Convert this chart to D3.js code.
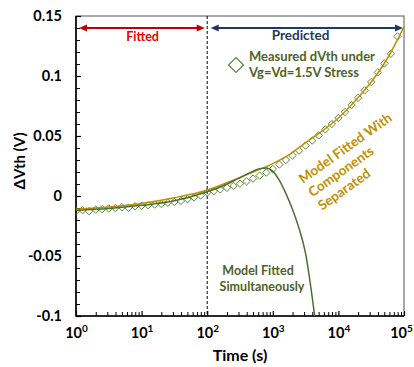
<!DOCTYPE html>
<html>
<head>
<meta charset="utf-8">
<script src="https://cdn.jsdelivr.net/npm/d3@7"></script>
<style>
  html, body { margin: 0; padding: 0; background: #fff; }
  svg { display: block; }
  text { font-family: Lato, "Open Sans", sans-serif; font-weight: bold; }
</style>
</head>
<body>
<svg id="chart" width="414" height="367"></svg>
<script>
// ---------- data ----------
const measuredTime = [1, 1.26, 1.58, 2, 2.51, 3.16, 3.98, 5.01, 6.31, 7.94,
  10, 12.6, 15.8, 20, 25.1, 31.6, 39.8, 50.1, 63.1, 79.4,
  100, 126, 158, 200, 251, 316, 398, 501, 631, 794,
  1000, 1259, 1585, 1995, 2512, 3162, 3981, 5012, 6310, 7943,
  10000, 12589, 15849, 19953, 25119, 31623, 39811, 50119, 63096, 79433];
const measuredDVth = [-0.0125, -0.0118, -0.0126, -0.0113, -0.0110, -0.0104, -0.0101, -0.0094, -0.0098, -0.0086,
  -0.0081, -0.0077, -0.0071, -0.0067, -0.0056, -0.0050, -0.0041, -0.0026, -0.0012, 0.0004,
  0.0028, 0.0040, 0.0055, 0.0068, 0.0084, 0.0103, 0.0122, 0.0145, 0.0170, 0.0195,
  0.0225, 0.0262, 0.0300, 0.0338, 0.0378, 0.0420, 0.0462, 0.0505, 0.0555, 0.0600,
  0.0650, 0.0700, 0.0758, 0.0818, 0.0880, 0.0950, 0.1030, 0.1105, 0.1185, 0.1330];

const separatedTime = [1, 3.16, 10, 31.6, 100, 316, 562, 1000, 1778, 3162, 5623, 10000, 17783, 31623, 56234, 100000];
const separatedDVth = [-0.0110, -0.0092, -0.0062, -0.0015, 0.0050, 0.0155, 0.0210, 0.0270, 0.0345, 0.0445, 0.0540, 0.0650, 0.0790, 0.0950, 0.1150, 0.1410];

const simultaneousTime = [1, 3.16, 10, 31.6, 100, 158, 251, 398, 631, 794, 1000, 1259, 1585, 1995, 2512, 3162, 3981, 4467];
const simultaneousDVth = [-0.0120, -0.0105, -0.0078, -0.0040, 0.0035, 0.0075, 0.0125, 0.0180, 0.0228, 0.0234, 0.0205, 0.0130, 0.0020, -0.0110, -0.0270, -0.0480, -0.0840, -0.1050];

const yMajorTicks = [-0.1, -0.05, 0, 0.05, 0.1, 0.15];
const yTickLabels = ["-0.1", "-0.05", "0", "0.05", "0.1", "0.15"];
const xMajorTicks = [1, 10, 100, 1000, 10000, 100000];
const xTickExponents = ["0", "1", "2", "3", "4", "5"];
const fittedEnd = 100;

// ---------- layout ----------
const svg = d3.select("#chart");
const L = 76, R = 404, T = 16, B = 316;
const x = d3.scaleLog().domain([1, 1e5]).range([L, R]);
const y = d3.scaleLinear().domain([-0.1, 0.15]).range([B, T]);

const cRed = "#c00000", cNavy = "#1f3864", cGold = "#bf9000",
      cGreenLine = "#4a7030", cGreenMark = "#5a8a3a", cGreenText = "#4f6228";

svg.append("defs").append("clipPath").attr("id", "clip")
  .append("rect").attr("x", L).attr("y", T).attr("width", R - L).attr("height", B - T);

// frame (top/right)
svg.append("rect").attr("x", L).attr("y", T).attr("width", R - L).attr("height", B - T)
  .attr("fill", "none").attr("stroke", "#6f6f6f").attr("stroke-width", 1.2);

// y axis
const yMinor = d3.range(-10, 16).map(d => d / 100).filter(v => !yMajorTicks.some(m => Math.abs(m - v) < 1e-9));
svg.append("g").attr("transform", `translate(${L},0)`)
  .call(d3.axisLeft(y).tickValues(yMinor).tickSize(-4).tickFormat(""))
  .call(g => g.select(".domain").remove())
  .selectAll("line").attr("stroke", "#000").attr("stroke-width", 1);
const yAx = svg.append("g").attr("transform", `translate(${L},0)`)
  .call(d3.axisLeft(y).tickValues(yMajorTicks).tickSize(-5).tickPadding(14)
    .tickFormat((d, i) => yTickLabels[i]));
yAx.select(".domain").remove();
yAx.selectAll("line").attr("stroke", "#000").attr("stroke-width", 1.2);
yAx.selectAll("text").attr("font-size", 14.5).attr("fill", "#000")
  .style("font-family", "Lato, sans-serif").style("font-weight", "bold");

// x axis
const xMinor = [];
for (let e = 0; e < 5; e++) for (let m = 2; m <= 9; m++) xMinor.push(m * Math.pow(10, e));
svg.append("g").attr("transform", `translate(0,${B})`)
  .call(d3.axisBottom(x).tickValues(xMinor).tickSize(-4).tickFormat(""))
  .call(g => g.select(".domain").remove())
  .selectAll("line").attr("stroke", "#000").attr("stroke-width", 1);
const xAx = svg.append("g").attr("transform", `translate(0,${B})`)
  .call(d3.axisBottom(x).tickValues(xMajorTicks).tickSize(-5).tickFormat(""));
xAx.select(".domain").remove();
xAx.selectAll("line").attr("stroke", "#000").attr("stroke-width", 1.2);
xAx.selectAll(".tick").append("text")
  .attr("y", 22).attr("x", (d, i) => i === xMajorTicks.length - 1 ? -3 : 0)
  .attr("text-anchor", "middle").attr("fill", "#000").attr("font-size", 14.5)
  .each(function (d, i) {
    const t = d3.select(this);
    t.append("tspan").text("10");
    t.append("tspan").attr("font-size", 10).attr("dy", -6).text(xTickExponents[i]);
  });

// axis lines
svg.append("line").attr("x1", L).attr("x2", L).attr("y1", T).attr("y2", B + 0.5)
  .attr("stroke", "#000").attr("stroke-width", 1.6);
svg.append("line").attr("x1", L).attr("x2", R).attr("y1", B).attr("y2", B)
  .attr("stroke", "#000").attr("stroke-width", 1.6);

// axis titles
svg.append("text").attr("transform", `translate(25,${(T + B) / 2 - 5}) rotate(-90)`)
  .attr("text-anchor", "middle").attr("font-size", 15).attr("fill", "#000").text("ΔVth (V)");
svg.append("text").attr("x", (L + R) / 2).attr("y", 361)
  .attr("text-anchor", "middle").attr("font-size", 16).attr("fill", "#000").text("Time (s)");

// dashed boundary
svg.append("line").attr("x1", x(fittedEnd)).attr("x2", x(fittedEnd)).attr("y1", T).attr("y2", B)
  .attr("stroke", "#000").attr("stroke-width", 1).attr("stroke-dasharray", "3,2");

// arrows
function dblArrow(x1, x2, yy, color) {
  const g = svg.append("g");
  const hl = 8, hw = 3.6;
  g.append("line").attr("x1", x1 + hl - 1).attr("x2", x2 - hl + 1).attr("y1", yy).attr("y2", yy)
    .attr("stroke", color).attr("stroke-width", 2);
  g.append("path").attr("d", `M${x1},${yy}L${x1 + hl},${yy - hw}L${x1 + hl},${yy + hw}Z`).attr("fill", color);
  g.append("path").attr("d", `M${x2},${yy}L${x2 - hl},${yy - hw}L${x2 - hl},${yy + hw}Z`).attr("fill", color);
}
const arrowY = 28;
dblArrow(x(1) + 3, x(fittedEnd) - 2.5, arrowY, cRed);
dblArrow(x(fittedEnd) + 3.5, x(1e5) - 1, arrowY, cNavy);
svg.append("text").attr("x", (x(1) + x(fittedEnd)) / 2 + 1).attr("y", 41)
  .attr("text-anchor", "middle").attr("font-size", 12.5).attr("fill", "#e00000").text("Fitted");
svg.append("text").attr("x", (x(fittedEnd) + x(1e5)) / 2 - 5).attr("y", 40)
  .attr("text-anchor", "middle").attr("font-size", 13.5).attr("fill", cNavy).text("Predicted");

// measured diamonds
const plot = svg.append("g").attr("clip-path", "url(#clip)");
const diamond = (cx, cy, r) => `M${cx},${cy - r}L${cx + r},${cy}L${cx},${cy + r}L${cx - r},${cy}Z`;
plot.selectAll("path.meas").data(measuredTime).join("path").attr("class", "meas")
  .attr("d", (t, i) => diamond(x(t), y(measuredDVth[i]), 3.7))
  .attr("fill", "none").attr("stroke", cGreenMark).attr("stroke-width", 1);

// model lines
const line = d3.line().x(d => x(d[0])).y(d => y(d[1])).curve(d3.curveMonotoneX);
plot.append("path").datum(separatedTime.map((t, i) => [t, separatedDVth[i]]))
  .attr("d", line).attr("fill", "none").attr("stroke", cGold).attr("stroke-width", 1.5);
plot.append("path").datum(simultaneousTime.map((t, i) => [t, simultaneousDVth[i]]))
  .attr("d", line).attr("fill", "none").attr("stroke", cGreenLine).attr("stroke-width", 1.5);

// legend
svg.append("path").attr("d", diamond(236, 65, 7.5)).attr("fill", "#fff")
  .attr("stroke", cGreenMark).attr("stroke-width", 1.2);
svg.append("text").attr("x", 249).attr("y", 61).attr("font-size", 13).attr("fill", cGreenText).text("Measured dVth under");
svg.append("text").attr("x", 249).attr("y", 77).attr("font-size", 13).attr("fill", cGreenText).text("Vg=Vd=1.5V Stress");

// annotations
const ann = svg.append("g").attr("transform", "translate(303,184) rotate(-35.5)");
["Model Fitted With", "Components", "Separated"].forEach((s, i) => {
  ann.append("text").attr("x", 0).attr("y", i * 16.5).attr("font-size", 13.5).attr("fill", cGold).text(s);
});
svg.append("text").attr("x", 258).attr("y", 275).attr("text-anchor", "middle")
  .attr("font-size", 12.5).attr("fill", cGreenText).text("Model Fitted");
svg.append("text").attr("x", 262).attr("y", 291).attr("text-anchor", "middle")
  .attr("font-size", 12.5).attr("fill", cGreenText).text("Simultaneously");
</script>
</body>
</html>
